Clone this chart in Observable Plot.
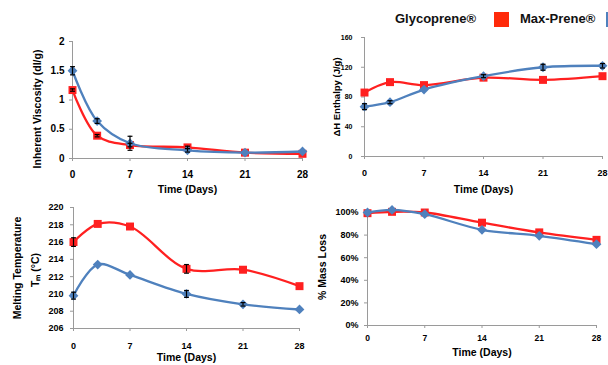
<!DOCTYPE html>
<html>
<head>
<meta charset="utf-8">
<script src="https://cdn.jsdelivr.net/npm/d3@7"></script>
<script src="https://cdn.jsdelivr.net/npm/@observablehq/plot@0.6"></script>
<style>
  html, body { margin: 0; padding: 0; background: #fff; }
  #wrap { position: relative; width: 608px; height: 365px; overflow: hidden; background: #fff; }
  #wrap svg { position: absolute; }
  .leg { position: absolute; font-family: "Liberation Sans Narrow", "Liberation Sans", Arial, sans-serif; font-weight: bold; font-size: 13px; color: #111; white-space: nowrap; }
  .sw { position: absolute; width: 15px; height: 15px; }
</style>
</head>
<body>
<div id="wrap">
  <div class="leg" style="left:395px; top:11px;">Glycoprene®</div>
  <div class="sw" style="left:494px; top:12px; background:#ff2a0a;"></div>
  <div class="leg" style="left:520px; top:11px;">Max-Prene®</div>
  <div class="sw" style="left:606px; top:12px; background:#4f81bd;"></div>
</div>
<script>
// ---- data ----
const days = [0, 3, 7, 14, 21, 28];
const xTicks = [0, 7, 14, 21, 28];
const seriesNames = ["Max-Prene®", "Glycoprene®"];

const viscRed = [1.17, 0.39, 0.23, 0.19, 0.10, 0.08];
const viscBlue = [1.50, 0.64, 0.26, 0.14, 0.10, 0.12];
const viscRedErr = [0.02, 0.02, 0.03, 0.02, 0, 0];
const viscBlueErr = [0.07, 0.04, 0.12, 0.03, 0, 0];
const viscTicks = [0, 0.5, 1, 1.5, 2];

const enthRed = [86, 100, 96, 106, 103, 108];
const enthBlue = [67, 73, 90, 108, 120, 122];
const enthRedErr = [0, 0, 0, 0, 0, 0];
const enthBlueErr = [4, 2, 0, 2, 4, 3];
const enthTicks = [0, 40, 80, 120, 160];

const tmRed = [216.0, 218.1, 217.8, 212.9, 212.8, 210.9];
const tmBlue = [209.8, 213.4, 212.2, 210.0, 208.8, 208.2];
const tmRedErr = [0.5, 0, 0, 0.5, 0, 0];
const tmBlueErr = [0.4, 0, 0, 0.4, 0.2, 0];
const tmTicks = [206, 208, 210, 212, 214, 216, 218, 220];

const massRed = [99.4, 100.6, 100, 91, 82.4, 75.8];
const massBlue = [100, 102.3, 98.5, 84.7, 79.4, 72];
const massRedErr = [0, 0, 0, 0, 0, 0];
const massBlueErr = [0, 0, 0, 0, 0, 0];
const massTicks = [0, 20, 40, 60, 80, 100];

const RED = "#ff2020";
const BLUE = "#4f81bd";
const FONT = '"Liberation Sans Narrow", "Liberation Sans", Arial, sans-serif';

function rows(vals, errs, s) {
  return days.map((d, i) => ({day: d, v: vals[i], e: errs[i], s}));
}

function panel(c) {
  const red = rows(c.red, c.redErr, seriesNames[0]);
  const blue = rows(c.blue, c.blueErr, seriesNames[1]);
  const errs = red.concat(blue).filter(d => d.e > 0);
  const marks = [
    Plot.ruleX([0], {stroke: "#9a9a9a", strokeWidth: 1}),
    Plot.ruleY([c.yDomain[0]], {stroke: "#9a9a9a", strokeWidth: 1}),
    Plot.axisY(c.yTicks, {tickSize: 3, tickPadding: c.yPad, tickFormat: c.yFmt, fontSize: c.ytf, fontWeight: "bold", stroke: "#9a9a9a", fill: "#000", label: null}),
    Plot.axisX(xTicks, {tickSize: 3, tickPadding: c.xPad, fontSize: c.xtf, fontWeight: "bold", stroke: "#9a9a9a", fill: "#000", label: null}),
    Plot.line(red, {x: "day", y: "v", stroke: RED, strokeWidth: 2.3, curve: "catmull-rom"}),
    Plot.dot(red, {x: "day", y: "v", symbol: "square", r: 4.5, fill: RED, stroke: "none"}),
    Plot.line(blue, {x: "day", y: "v", stroke: BLUE, strokeWidth: 2.3, curve: "catmull-rom"}),
    Plot.dot(blue, {x: "day", y: "v", symbol: "diamond2", r: 4.4, fill: BLUE, stroke: "none"}),
    Plot.ruleX(errs, {x: "day", y1: d => d.v - d.e, y2: d => d.v + d.e, stroke: "#000", strokeWidth: 1.2}),
    Plot.link(errs, {x1: d => d.day - 0.3, x2: d => d.day + 0.3, y1: d => d.v + d.e, y2: d => d.v + d.e, stroke: "#000", strokeWidth: 1.2}),
    Plot.link(errs, {x1: d => d.day - 0.3, x2: d => d.day + 0.3, y1: d => d.v - d.e, y2: d => d.v - d.e, stroke: "#000", strokeWidth: 1.2}),
    Plot.text(["Time (Days)"], {frameAnchor: "bottom", textAnchor: "middle", dy: c.xlDy, fontSize: c.xlf, fontWeight: "bold", fill: "#000"})
  ];
  for (const yl of c.yLabels) {
    marks.push(Plot.text([yl.t], {frameAnchor: "left", textAnchor: "middle", dx: yl.dx, dy: yl.dy, rotate: -90, fontSize: yl.f, fontWeight: "bold", fill: "#000"}));
  }
  const svg = Plot.plot({
    width: c.w, height: c.h,
    marginTop: c.mt, marginRight: c.mr, marginBottom: c.mb, marginLeft: c.ml,
    x: {domain: [0, 28], axis: null},
    y: {domain: c.yDomain, axis: null},
    style: {background: "transparent", overflow: "visible", fontFamily: FONT},
    marks
  });
  svg.style.left = c.left + "px";
  svg.style.top = c.top + "px";
  document.getElementById("wrap").appendChild(svg);
}

panel({left: 0, top: 0, w: 304, h: 200, mt: 41, mr: 2, mb: 42, ml: 72,
  yDomain: [0, 2], yTicks: viscTicks, yFmt: d => String(d), ytf: 10, xtf: 10, xPad: 9.5, yPad: 5,
  red: viscRed, blue: viscBlue, redErr: viscRedErr, blueErr: viscBlueErr,
  xlDy: 34, xlf: 10.5,
  yLabels: [{t: "Inherent Viscosity (dl/g)", dx: -35, dy: 9, f: 10.5}]});

panel({left: 304, top: 0, w: 304, h: 200, mt: 37, mr: 6, mb: 44, ml: 60,
  yDomain: [0, 160], yTicks: enthTicks, yFmt: d => String(d), ytf: 7, xtf: 9, xPad: 10.5, yPad: 9,
  red: enthRed, blue: enthBlue, redErr: enthRedErr, blueErr: enthBlueErr,
  xlDy: 36, xlf: 10.5,
  yLabels: [{t: "ΔH Enthalpy (J/g)", dx: -28, dy: 0, f: 9.5}]});

panel({left: 0, top: 195, w: 304, h: 170, mt: 12, mr: 5, mb: 37, ml: 73,
  yDomain: [206, 220], yTicks: tmTicks, yFmt: d => String(d), ytf: 9, xtf: 9, xPad: 10.8, yPad: 7,
  red: tmRed, blue: tmBlue, redErr: tmRedErr, blueErr: tmBlueErr,
  xlDy: 32, xlf: 10.5,
  yLabels: [{t: "Melting Temperature", dx: -56, dy: 0, f: 10.5}, {t: "Tₘ (°C)", dx: -38, dy: 2, f: 10.5}]});

panel({left: 304, top: 195, w: 304, h: 170, mt: 17, mr: 12, mb: 40, ml: 63,
  yDomain: [0, 100], yTicks: massTicks, yFmt: d => d + "%", ytf: 9, xtf: 8.5, xPad: 6.5, yPad: 6,
  red: massRed, blue: massBlue, redErr: massRedErr, blueErr: massBlueErr,
  xlDy: 30, xlf: 10.5,
  yLabels: [{t: "% Mass Loss", dx: -45, dy: -2, f: 10.5}]});
</script>
</body>
</html>
